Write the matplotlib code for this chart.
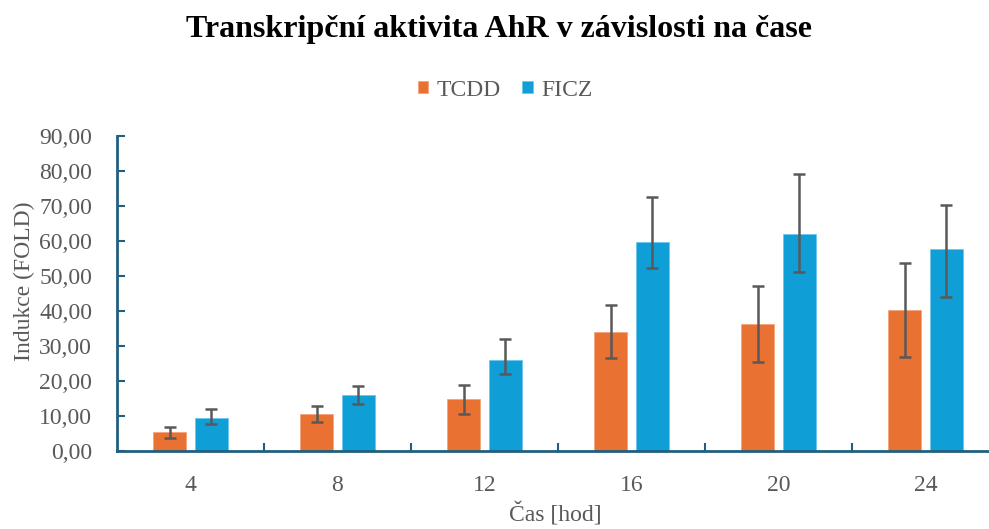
import numpy as np
import matplotlib.pyplot as plt
from matplotlib.ticker import FuncFormatter

# data
hours = ['4', '8', '12', '16', '20', '24']
tcdd = [5.3, 10.7, 14.8, 34.1, 36.2, 40.3]
tcdd_lo = [1.7, 2.4, 4.1, 7.4, 10.8, 13.5]
tcdd_hi = [1.7, 2.3, 4.1, 7.6, 11.1, 13.6]
ficz = [9.4, 15.9, 26.0, 59.8, 62.0, 57.7]
ficz_lo = [1.7, 2.5, 4.0, 7.4, 10.9, 13.6]
ficz_hi = [2.5, 2.8, 5.9, 12.9, 17.1, 12.6]

orange = '#E97132'
blue = '#0F9ED5'
axcol = '#215F7F'
txtcol = '#595959'
plt.rcParams['font.family'] = ['Liberation Serif', 'DejaVu Serif']

fig = plt.figure(figsize=(9.89, 5.29), dpi=100)
ax = fig.add_axes([117/989, 1-451/529, 882/989, 314.7/529])

x = np.arange(len(hours))
w = 0.224
off = 0.141
ekw = dict(ecolor='#595959', elinewidth=1.8, capsize=4.5, capthick=1.8)
ax.bar(x-off, tcdd, w, color=orange, edgecolor='#F4A47A', linewidth=0.6,
       yerr=[tcdd_lo, tcdd_hi], error_kw=ekw, label='TCDD')
ax.bar(x+off, ficz, w, color=blue, edgecolor='#6CC6EC', linewidth=0.6,
       yerr=[ficz_lo, ficz_hi], error_kw=ekw, label='FICZ')

ax.set_xlim(-0.5, len(hours)-0.5)
ax.set_ylim(0, 90)
ax.set_yticks(np.arange(0, 91, 10))
ax.yaxis.set_major_formatter(FuncFormatter(lambda v, p: ('%.2f' % v).replace('.', ',')))
ax.set_xticks(x)
ax.set_xticklabels(hours)
ax.set_xticks(np.arange(0.5, len(hours)-0.5, 1), minor=True)

for s in ['top', 'right']:
    ax.spines[s].set_visible(False)
for s in ['left', 'bottom']:
    ax.spines[s].set_color(axcol)
    ax.spines[s].set_linewidth(2)
ax.tick_params(axis='y', which='major', direction='in', length=6, width=1.5,
               color=axcol, labelcolor=txtcol, labelsize=17, pad=18)
ax.tick_params(axis='x', which='major', length=0, labelcolor=txtcol, labelsize=17, pad=17)
ax.tick_params(axis='x', which='minor', direction='in', length=6, width=1.5, color=axcol)

ax.set_ylabel('Indukce (FOLD)', fontsize=17, color=txtcol)
ax.yaxis.set_label_coords(-0.093, 0.54)
ax.set_xlabel('Čas [hod]', fontsize=17, color=txtcol)
ax.xaxis.set_label_coords(0.497, -0.163)

fig.text(0.505, 1-30/529, 'Transkripční aktivita AhR v závislosti na čase', fontsize=23,
         fontweight='bold', ha='center', va='center')
ax.legend(loc='center', bbox_to_anchor=(0.44, 1.147), ncol=2, frameon=False,
          fontsize=17, labelcolor=txtcol, handlelength=0.45, handleheight=0.45,
          handletextpad=0.35, columnspacing=0.9)

plt.savefig('out.png', dpi=100)
